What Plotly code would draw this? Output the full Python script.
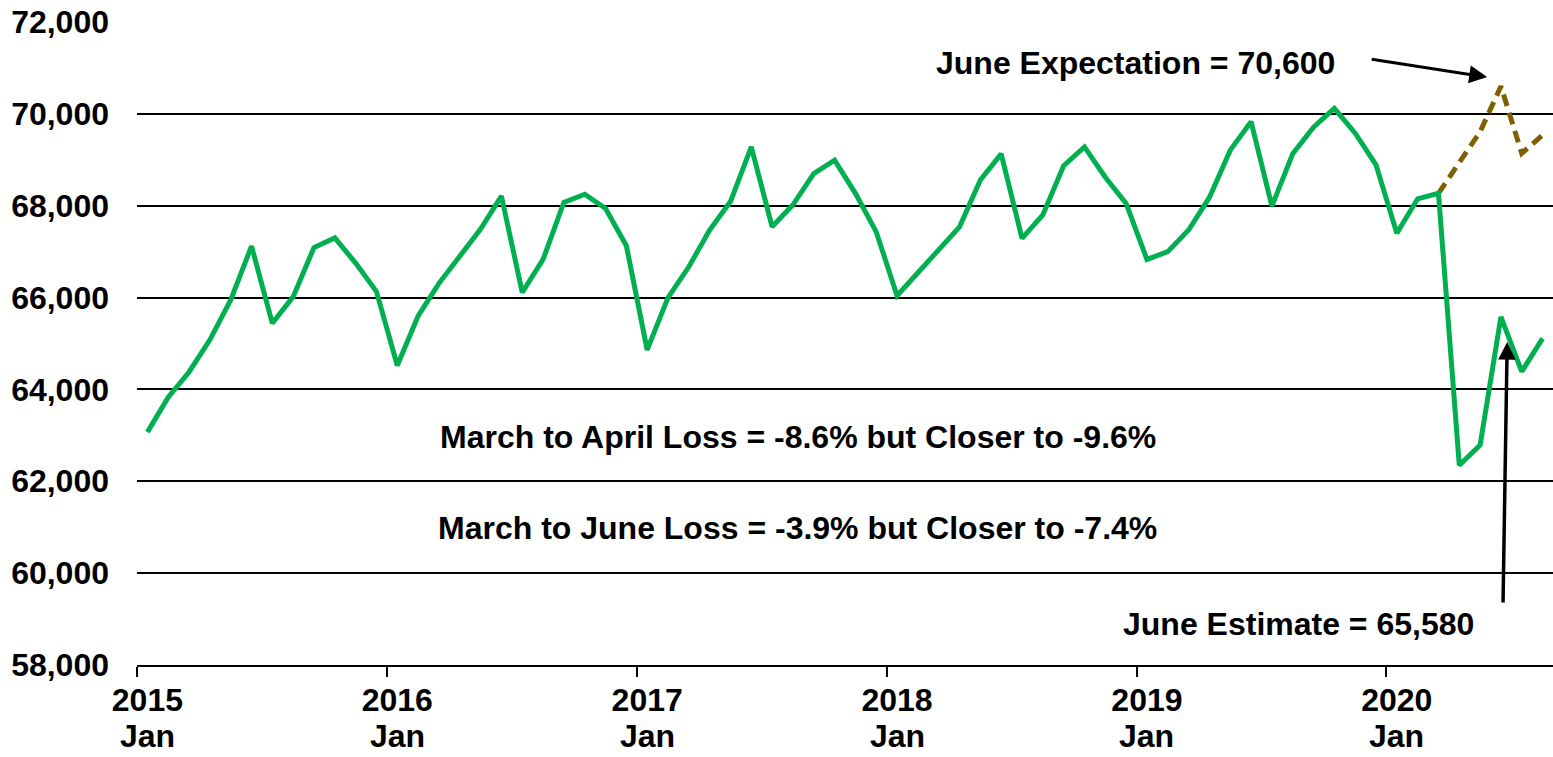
import plotly.graph_objects as go

# ---- data (monthly, Jan 2015 - Aug 2020) ----
years = [2015, 2016, 2017, 2018, 2019, 2020]
month_names = ["Jan", "Feb", "Mar", "Apr", "May", "Jun", "Jul", "Aug", "Sep", "Oct", "Nov", "Dec"]
months = [f"{y} {m}" for y in years for m in month_names][:68]

actual = [
    63070, 63830, 64380, 65080, 65950, 67120, 65440, 66020, 67090, 67300, 66750, 66130,  # 2015
    64520, 65600, 66310, 66890, 67490, 68210, 66110, 66830, 68070, 68250, 67940, 67130,  # 2016
    64860, 66000, 66670, 67470, 68090, 69280, 67540, 68020, 68700, 68990, 68270, 67430,  # 2017
    66040, 66540, 67040, 67540, 68560, 69130, 67290, 67800, 68870, 69280, 68620, 68050,  # 2018
    66830, 67000, 67470, 68180, 69210, 69830, 67990, 69130, 69710, 70120, 69580, 68890,  # 2019
    67400, 68150, 68270, 62350, 62790, 65580, 64390, 65110,                              # 2020
]
expectation_months = ["2020 Mar", "2020 Apr", "2020 May", "2020 Jun", "2020 Jul", "2020 Aug"]
expectation = [68270, 68920, 69610, 70600, 69140, 69540]

y_ticks = [58000, 60000, 62000, 64000, 66000, 68000, 70000, 72000]
year_labels = [str(y) for y in years]
month_label = "Jan"

june_expect = 70600
june_est = 65580

# ---- figure ----
idx = list(range(len(months)))
exp_idx = [months.index(m) for m in expectation_months]
jan_idx = [months.index(f"{y} Jan") for y in years]
june_i = months.index("2020 Jun")

FONT = "Liberation Sans, Arial, sans-serif"
FS = 32

fig = go.Figure()
fig.add_trace(go.Scatter(x=exp_idx, y=expectation, mode="lines",
                         line=dict(color="#7F6000", width=5, dash="12px,7px"),
                         hoverinfo="skip"))
fig.add_trace(go.Scatter(x=idx, y=actual, mode="lines",
                         line=dict(color="#00B050", width=5),
                         customdata=months, hovertemplate="%{customdata}: %{y:,}<extra></extra>"))

fig.update_layout(
    width=1553, height=757,
    margin=dict(l=137, r=0, t=22, b=92, autoexpand=False),
    paper_bgcolor="white", plot_bgcolor="white",
    showlegend=False,
    font=dict(family=FONT, color="black"),
)

fig.update_xaxes(
    range=[-0.5, len(months) - 0.5],
    tickmode="array", tickvals=jan_idx, ticktext=year_labels,
    ticks="", tickfont=dict(family=FONT, size=FS, color="black", weight="bold"),
    ticklabelstandoff=6,
    showgrid=False, zeroline=False, automargin=False,
    showline=True, linecolor="black", linewidth=1.5,
    minor=dict(tickmode="linear", tick0=-0.5, dtick=12, ticks="outside",
               ticklen=10, tickwidth=1.5, tickcolor="black", showgrid=False),
)
fig.update_yaxes(
    range=[58000, 72000],
    tickmode="array", tickvals=y_ticks, tickformat=",",
    ticks="", tickfont=dict(family=FONT, size=FS, color="black", weight="bold"),
    ticklabelstandoff=27,
    showgrid=True, gridcolor="black", gridwidth=1.5,
    zeroline=False, showline=False, automargin=False,
)

txt = dict(family=FONT, size=FS, color="black", weight="bold")

# second row of the x tick labels ("Jan")
for j in jan_idx:
    fig.add_annotation(x=j, y=-0.110, xref="x", yref="paper", showarrow=False,
                       yanchor="middle", text=month_label, font=txt)

# text labels
fig.add_annotation(x=47.43, y=71107, xref="x", yref="y", showarrow=False,
                   text=f"June Expectation = {june_expect:,}", font=txt)
fig.add_annotation(x=31.22, y=62964, xref="x", yref="y", showarrow=False,
                   text="March to April Loss = -8.6% but Closer to -9.6%", font=txt)
fig.add_annotation(x=31.22, y=60983, xref="x", yref="y", showarrow=False,
                   text="March to June Loss = -3.9% but Closer to -7.4%", font=txt)
fig.add_annotation(x=55.28, y=58893, xref="x", yref="y", showarrow=False,
                   text=f"June Estimate = {june_est:,}", font=txt)

# arrows
fig.add_annotation(x=june_i - 0.66, y=june_expect + 200, xref="x", yref="y",
                   ax=june_i - 6.28, ay=june_expect + 594, axref="x", ayref="y",
                   text="", showarrow=True, arrowhead=2, arrowsize=1.2,
                   arrowwidth=3, arrowcolor="black")
fig.add_annotation(x=june_i + 0.3, y=june_est - 550, xref="x", yref="y",
                   ax=june_i + 0.1, ay=59330, axref="x", ayref="y",
                   text="", showarrow=True, arrowhead=2, arrowsize=1,
                   arrowwidth=3.5, arrowcolor="black")

fig.write_html(
    "out.html",
    config={"displayModeBar": False},
    post_script="document.body.style.margin='0';document.body.style.overflow='hidden';",
)
